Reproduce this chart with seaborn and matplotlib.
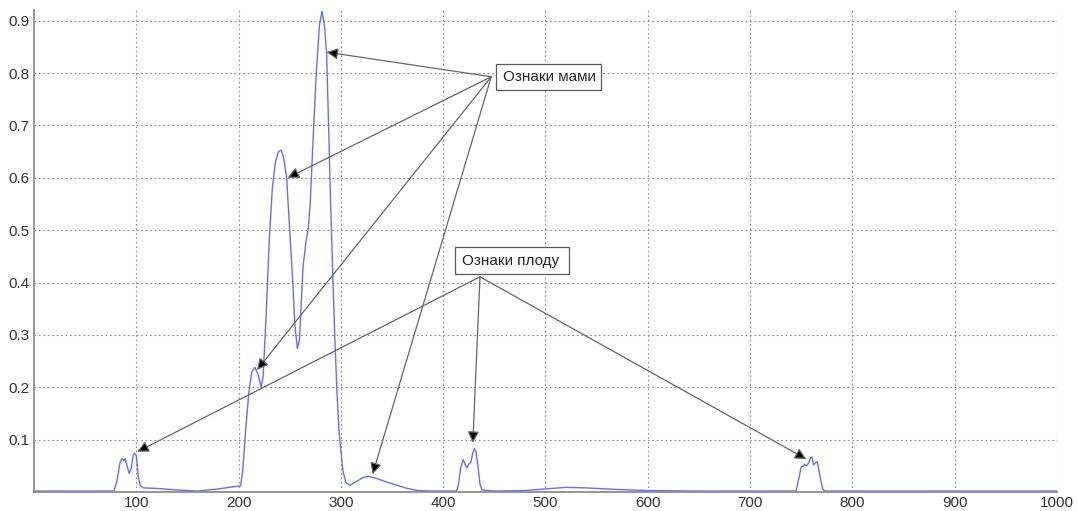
import matplotlib
matplotlib.use("Agg")
import matplotlib.pyplot as plt
import seaborn as sns

# ------------------------------------------------------------
# Data
# ------------------------------------------------------------
signal_x = [0, 78, 81, 84, 86, 88, 89, 91, 93, 95, 97, 98.5, 100, 102, 104, 107,
            120, 140, 160, 180, 198, 202, 204, 207, 210, 213, 216, 219, 222, 224,
            227, 230, 233, 236, 239, 241.5, 244, 247, 250, 253, 255, 257.5, 259.5,
            261, 263, 266, 268, 270, 273, 276, 279, 281.5, 284, 286, 288, 290, 292,
            294, 296, 298, 300, 302, 305, 309, 315, 322, 327, 335, 345, 355, 365,
            375, 390, 413, 415, 417, 419.5, 421, 423, 425, 427, 429, 430.5, 432,
            434, 436, 438, 450, 480, 500, 520, 540, 570, 600, 650, 745, 747, 750,
            752, 753.5, 755, 757, 759, 760.5, 762, 764, 765.5, 767, 769, 771, 773,
            1000]
signal_y = [0.002, 0.002, 0.02, 0.055, 0.064, 0.06, 0.064, 0.05, 0.036, 0.045,
            0.07, 0.074, 0.07, 0.03, 0.012, 0.008, 0.007, 0.004, 0.002, 0.006,
            0.011, 0.012, 0.04, 0.12, 0.19, 0.23, 0.238, 0.225, 0.2, 0.22, 0.34,
            0.48, 0.58, 0.63, 0.65, 0.653, 0.64, 0.6, 0.5, 0.4, 0.32, 0.274, 0.29,
            0.35, 0.43, 0.48, 0.5, 0.55, 0.68, 0.80, 0.89, 0.918, 0.89, 0.84, 0.7,
            0.55, 0.42, 0.3, 0.2, 0.12, 0.08, 0.04, 0.018, 0.013, 0.02, 0.028,
            0.030, 0.026, 0.019, 0.013, 0.007, 0.003, 0.002, 0.002, 0.015, 0.045,
            0.062, 0.055, 0.046, 0.053, 0.057, 0.075, 0.083, 0.078, 0.05, 0.015,
            0.004, 0.002, 0.003, 0.006, 0.009, 0.008, 0.005, 0.003, 0.002, 0.002,
            0.02, 0.048, 0.05, 0.053, 0.05, 0.055, 0.065, 0.067, 0.052, 0.056,
            0.058, 0.045, 0.023, 0.006, 0.002, 0.002]

x_ticks = [100, 200, 300, 400, 500, 600, 700, 800, 900, 1000]
y_ticks = [0.1, 0.2, 0.3, 0.4, 0.5, 0.6, 0.7, 0.8, 0.9]

mother_label = "Ознаки мами"
mother_source = (447, 0.793)
mother_targets = [(286, 0.84), (248, 0.60), (218, 0.233), (331, 0.034)]

fetus_label = "Ознаки плоду"
fetus_source = (436, 0.411)
fetus_targets = [(101, 0.077), (429, 0.094), (755, 0.063)]

# ------------------------------------------------------------
# Plot
# ------------------------------------------------------------
sns.set_style("white")
plt.rcParams["font.family"] = ["Liberation Sans", "DejaVu Sans"]

fig = plt.figure(figsize=(10.78, 5.11), dpi=100)
ax = fig.add_axes([0.0315, 0.037, 0.949, 0.943])

sns.lineplot(x=signal_x, y=signal_y, ax=ax, color="#6b6bff", lw=1.0,
             sort=False, estimator=None)

ax.set_xlim(0, 1000)
ax.set_ylim(0, 0.92)
ax.set_xticks(x_ticks)
ax.set_yticks(y_ticks)
ax.set_xticklabels([str(t) for t in x_ticks])
ax.set_yticklabels([f"{t:.1f}" for t in y_ticks])
ax.tick_params(direction="in", length=5, width=1, color="0.55",
               labelsize=11, labelcolor="0.2", pad=3)
ax.grid(True, linestyle=(0, (1.5, 2.5)), color="0.55", lw=0.8)

for side in ["top", "right"]:
    ax.spines[side].set_visible(False)
for side in ["left", "bottom"]:
    ax.spines[side].set_color("0.55")
    ax.spines[side].set_linewidth(1.3)

arrow_style = dict(arrowstyle="-|>", fc="black", ec="0.4", lw=0.9,
                   mutation_scale=17, shrinkA=0, shrinkB=0)

for target in mother_targets:
    ax.annotate("", xy=target, xytext=mother_source, arrowprops=arrow_style)
for target in fetus_targets:
    ax.annotate("", xy=target, xytext=fetus_source, arrowprops=arrow_style)

box_style = dict(boxstyle="square,pad=0.4", fc="white", ec="0.35", lw=0.9)
ax.text(458, 0.793, mother_label, fontsize=11, color="0.15",
        va="center", ha="left", bbox=box_style)
ax.text(418, 0.442, fetus_label + " ", fontsize=11, color="0.15",
        va="center", ha="left", bbox=box_style)

fig.savefig("out.png", dpi=100)
